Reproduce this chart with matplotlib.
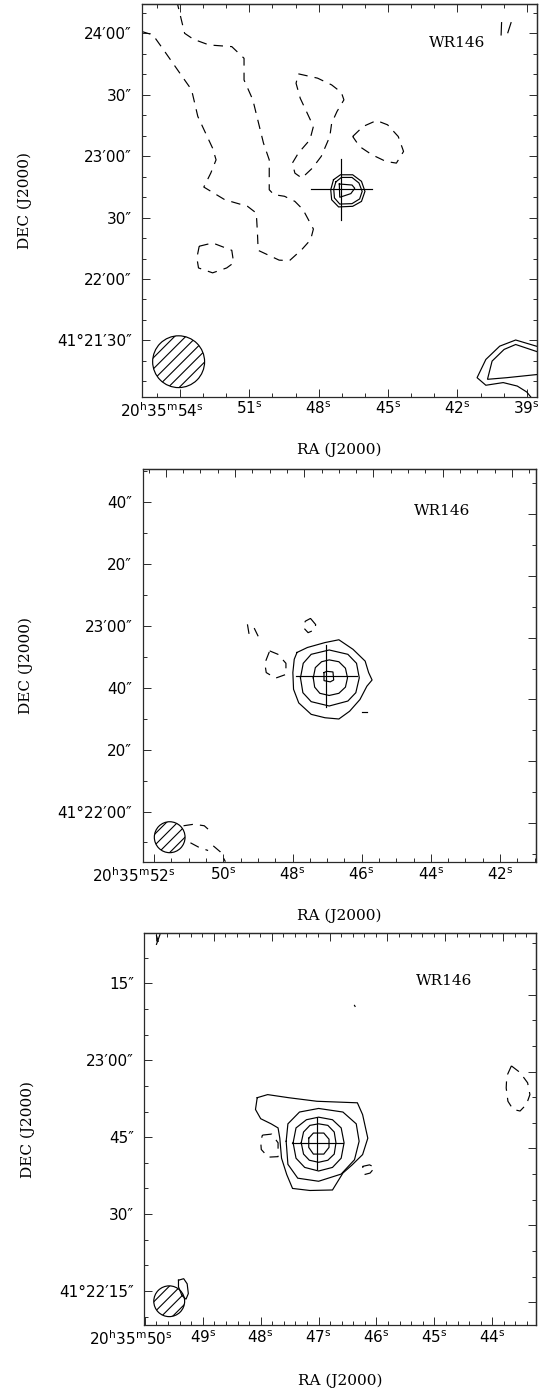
import matplotlib
matplotlib.use('Agg')
import matplotlib.pyplot as plt
from matplotlib.patches import Ellipse
from matplotlib.ticker import FixedLocator, MultipleLocator

plt.rcParams['font.family'] = ['DejaVu Sans']
plt.rcParams['mathtext.default'] = 'regular'
plt.rcParams['hatch.linewidth'] = 0.8

# ---------------------------------------------------------------- data
# RA in seconds after 20h35m, Dec in arcsec after +41d00m00s
SOURCE = 'WR146'
SRC_RA = 47.02
SRC_DEC = 1363.8
CROSS_HALF_ARCSEC = [15.0, 10.0, 5.0]
ARCSEC_PER_RA_SEC = 11.26
BEAM_RA = [54.06, 51.55, 49.58]
BEAM_DEC = [1279.6, 1311.7, 1333.0]
BEAM_ARCSEC = [25.3, 10.0, 6.0]

P1_XLIM = (55.63, 38.57)
P1_YLIM = (1262.5, 1454.3)
P1_XTICKS = [54, 51, 48, 45, 42, 39]
P1_XLABELS = [r'$20^{h}35^{m}54^{s}$', r'$51^{s}$', r'$48^{s}$', r'$45^{s}$', r'$42^{s}$', r'$39^{s}$']
P1_YTICKS = [1290, 1320, 1350, 1380, 1410, 1440]
P1_YLABELS = ['41°21′30″', '22′00″', '30″', '23′00″', '30″', '24′00″']

P2_XLIM = (52.33, 40.97)
P2_YLIM = (1303.6, 1430.8)
P2_XTICKS = [52, 50, 48, 46, 44, 42]
P2_XLABELS = [r'$20^{h}35^{m}52^{s}$', r'$50^{s}$', r'$48^{s}$', r'$46^{s}$', r'$44^{s}$', r'$42^{s}$']
P2_YTICKS = [1320, 1340, 1360, 1380, 1400, 1420]
P2_YLABELS = ['41°22′00″', '20″', '40″', '23′00″', '20″', '40″']

P3_XLIM = (50.01, 43.25)
P3_YLIM = (1328.3, 1404.8)
P3_XTICKS = [50, 49, 48, 47, 46, 45, 44]
P3_XLABELS = [r'$20^{h}35^{m}50^{s}$', r'$49^{s}$', r'$48^{s}$', r'$47^{s}$', r'$46^{s}$', r'$45^{s}$', r'$44^{s}$']
P3_YTICKS = [1335, 1350, 1365, 1380, 1395]
P3_YLABELS = ['41°22′15″', '30″', '45″', '23′00″', '15″']

# ---- panel 1 contours
P1_NEG_A = [(54.15, 1456.3), (53.80, 1440.0), (53.42, 1437.1), (52.74, 1434.3), (51.76, 1433.5),
            (51.23, 1427.8), (51.23, 1417.2), (50.85, 1407.5), (50.39, 1386.4), (50.14, 1378.2),
            (50.14, 1363.6), (49.94, 1361.2), (49.48, 1360.4), (49.03, 1357.9), (48.68, 1353.9),
            (48.23, 1344.4), (48.35, 1339.2), (48.73, 1334.4), (49.26, 1329.0), (49.71, 1329.2),
            (50.62, 1334.0), (50.65, 1342.5), (50.70, 1352.2), (51.08, 1355.5), (52.06, 1358.7),
            (52.97, 1364.9), (52.67, 1371.7), (52.44, 1378.2), (52.59, 1383.9), (53.23, 1399.4),
            (53.50, 1412.4), (53.80, 1417.2), (54.71, 1431.9), (55.17, 1439.2), (55.77, 1441.3)]
P1_NEG_B = [(48.88, 1420.2), (48.05, 1418.1), (47.44, 1414.8), (47.02, 1411.1), (46.91, 1407.5),
            (47.21, 1401.8), (47.44, 1396.1), (47.52, 1389.6), (47.89, 1379.9), (48.27, 1374.2),
            (48.73, 1369.3), (49.03, 1371.7), (49.14, 1376.6), (48.88, 1381.5), (48.38, 1388.0),
            (48.23, 1394.5), (48.53, 1401.8), (48.80, 1408.3), (48.98, 1415.6)]
P1_NEG_C = [(46.53, 1389.6), (46.08, 1394.5), (45.50, 1397.4), (45.02, 1395.3), (44.56, 1389.6),
            (44.33, 1382.3), (44.64, 1376.6), (45.09, 1377.4), (45.70, 1380.7), (46.23, 1384.7)]
P1_NEG_D = [(53.17, 1336.0), (52.59, 1337.6), (51.76, 1334.0), (51.68, 1327.9), (51.98, 1325.4),
            (52.59, 1323.0), (53.20, 1325.4), (53.27, 1330.3)]
P1_NEG_E1 = [(40.11, 1439.2), (40.09, 1445.2)]
P1_NEG_E2 = [(39.68, 1445.2), (39.82, 1440.3)]
P1_POS_1 = [(47.36, 1368.5), (47.06, 1370.9), (46.53, 1370.9), (46.15, 1367.7), (46.00, 1362.8),
            (46.15, 1357.9), (46.53, 1355.5), (47.14, 1355.2), (47.44, 1358.7), (47.48, 1363.6)]
P1_POS_2 = [(47.26, 1367.4), (47.02, 1369.6), (46.56, 1369.6), (46.26, 1366.9), (46.12, 1362.8),
            (46.23, 1359.1), (46.56, 1356.8), (47.09, 1356.6), (47.32, 1359.6), (47.35, 1363.9)]
P1_POS_3 = [(47.11, 1366.4), (46.56, 1365.9), (46.44, 1364.3), (46.61, 1361.7), (47.09, 1359.9)]
P1_POS_4 = [(38.50, 1286.9), (39.48, 1290.2), (40.17, 1287.2), (40.77, 1280.7), (41.15, 1271.8),
            (40.77, 1268.1), (40.02, 1269.4), (39.41, 1267.7), (39.00, 1264.8), (38.80, 1262.0)]
P1_POS_5 = [(38.50, 1284.3), (39.48, 1288.0), (39.98, 1285.6), (40.50, 1279.9), (40.70, 1271.0),
            (39.86, 1271.8), (38.50, 1273.4)]

# ---- panel 2 contours
P2_POS_1 = [(47.87, 1371.4), (47.57, 1373.0), (47.06, 1374.6), (46.66, 1375.5), (46.25, 1372.4),
            (45.90, 1368.6), (45.80, 1364.9), (45.70, 1362.5), (45.85, 1360.5), (46.05, 1356.2),
            (46.35, 1352.4), (46.66, 1349.9), (47.06, 1350.3), (47.46, 1351.4), (47.82, 1355.1),
            (47.97, 1359.5), (47.99, 1364.9), (47.95, 1369.2)]
P2_POS_2 = [(47.77, 1363.2), (47.69, 1367.9), (47.46, 1370.8), (46.94, 1372.2), (46.40, 1370.8),
            (46.15, 1367.9), (46.07, 1363.2), (46.17, 1358.4), (46.40, 1355.7), (46.94, 1354.1),
            (47.46, 1355.5), (47.70, 1358.4)]
P2_POS_3 = [(47.40, 1363.2), (47.34, 1366.5), (47.16, 1368.4), (46.94, 1369.0), (46.66, 1368.4),
            (46.47, 1366.3), (46.41, 1363.2), (46.47, 1360.2), (46.66, 1358.2), (46.94, 1357.5),
            (47.21, 1358.2), (47.36, 1360.2)]
P2_POS_4 = [(47.09, 1364.9), (47.01, 1365.3), (46.83, 1365.1), (46.81, 1362.5), (46.91, 1361.9),
            (47.09, 1362.3)]
P2_NEG_A1 = [(49.30, 1380.3), (49.26, 1377.6)]
P2_NEG_A2 = [(49.10, 1379.1), (49.00, 1376.8)]
P2_NEG_B = [(47.48, 1382.4), (47.33, 1380.4), (47.36, 1378.7), (47.55, 1377.8), (47.69, 1379.5),
            (47.63, 1381.5)]
P2_NEG_C = [(48.66, 1371.9), (48.42, 1370.8), (48.19, 1367.9), (48.19, 1364.3), (48.49, 1363.1),
            (48.76, 1364.9), (48.80, 1367.9)]
P2_NEG_D = [(46.00, 1352.2), (45.85, 1352.2)]
P2_NEG_E1 = [(51.15, 1315.4), (50.85, 1315.9), (50.55, 1315.4), (50.29, 1312.8)]
P2_NEG_E2 = [(50.95, 1309.9), (50.70, 1308.4), (50.44, 1307.4)]
P2_NEG_E3 = [(50.29, 1308.9), (50.09, 1307.0), (49.94, 1303.8)]

# ---- panel 3 contours
P3_POS_1 = [(48.06, 1372.7), (47.88, 1373.3), (47.52, 1372.7), (47.03, 1372.0), (46.33, 1371.7),
            (46.24, 1369.4), (46.15, 1364.8), (46.24, 1361.6), (46.42, 1359.6), (46.58, 1358.0),
            (46.76, 1354.7), (47.15, 1354.6), (47.45, 1355.0), (47.55, 1357.7), (47.64, 1360.9),
            (47.67, 1364.8), (47.70, 1366.8), (47.82, 1367.6), (48.00, 1368.6), (48.09, 1370.4)]
P3_POS_2 = [(47.56, 1364.2), (47.53, 1367.6), (47.33, 1369.9), (47.00, 1370.6), (46.58, 1369.9),
            (46.35, 1367.6), (46.30, 1364.2), (46.38, 1360.6), (46.61, 1357.8), (47.00, 1356.4),
            (47.36, 1357.0), (47.53, 1359.7)]
P3_POS_3 = [(47.44, 1363.9), (47.39, 1366.8), (47.21, 1368.4), (47.00, 1368.9), (46.76, 1368.4),
            (46.61, 1366.8), (46.56, 1363.9), (46.61, 1360.9), (46.76, 1359.1), (47.00, 1358.4),
            (47.24, 1359.1), (47.39, 1360.9)]
P3_POS_4 = [(47.30, 1363.9), (47.26, 1366.0), (47.15, 1367.3), (47.00, 1367.6), (46.84, 1367.3),
            (46.73, 1366.0), (46.70, 1363.9), (46.73, 1361.7), (46.84, 1360.5), (47.00, 1360.1),
            (47.16, 1360.5), (47.26, 1361.7)]
P3_POS_5 = [(47.17, 1364.8), (47.09, 1365.8), (46.91, 1365.8), (46.82, 1364.6), (46.82, 1363.0),
            (46.91, 1361.7), (47.09, 1361.7), (47.17, 1363.0)]
P3_POS_6 = [(49.42, 1337.1), (49.33, 1337.4), (49.27, 1336.4), (49.25, 1334.5), (49.29, 1333.4),
            (49.36, 1334.1), (49.42, 1335.8)]
P3_POS_7 = [(49.80, 1404.3), (49.77, 1403.2)]
P3_POS_8 = [(49.74, 1404.5), (49.80, 1402.6)]
P3_POS_9 = [(46.38, 1390.7), (46.37, 1390.5)]
P3_NEG_A = [(47.97, 1365.4), (47.81, 1365.6), (47.70, 1363.9), (47.70, 1361.2), (47.87, 1361.1),
            (47.99, 1362.6), (48.00, 1364.2)]
P3_NEG_B = [(46.24, 1359.3), (46.12, 1359.6), (46.03, 1359.1), (46.11, 1358.0), (46.21, 1357.7)]
P3_NEG_C = [(43.67, 1378.9), (43.52, 1377.6), (43.39, 1375.6), (43.35, 1373.3), (43.41, 1371.4),
            (43.52, 1370.1), (43.64, 1370.4), (43.73, 1372.0), (43.76, 1374.6), (43.75, 1376.9)]

# ---------------------------------------------------------------- style
EDGE = '#2a2a2a'
DASH = (0, (8, 6))
LW = 0.85
SERIF = ['DejaVu Serif']
TICKFS = 11
LABELFS = 11

fig = plt.figure(figsize=(5.54, 13.91), dpi=100)


def draw(ax, pts, closed=True, dashed=False):
    xs = [p[0] for p in pts]
    ys = [p[1] for p in pts]
    if closed:
        xs.append(xs[0])
        ys.append(ys[0])
    ax.plot(xs, ys, color='k', lw=LW, ls=DASH if dashed else '-',
            solid_joinstyle='miter', dash_capstyle='butt')


def setup(ax, xlim, ylim, xticks, xlabels, xminor, yticks, ylabels, yminor,
          top_off, top_major, right_off, right_major, first_dx, idx, wr_pos, ra_y):
    ax.set_xlim(*xlim)
    ax.set_ylim(*ylim)
    ax.xaxis.set_major_locator(FixedLocator(xticks))
    ax.xaxis.set_minor_locator(MultipleLocator(xminor))
    ax.yaxis.set_major_locator(FixedLocator(yticks))
    ax.yaxis.set_minor_locator(MultipleLocator(yminor))
    ax.set_xticklabels([''] + xlabels[1:])
    ax.set_yticklabels(ylabels)
    ax.tick_params(which='both', direction='in', top=False, right=False,
                   color=EDGE, width=0.7, labelsize=TICKFS)
    ax.tick_params(which='major', length=5.5)
    ax.tick_params(which='minor', length=3)
    ax.tick_params(axis='x', pad=3)
    ax.tick_params(axis='y', pad=7.5)
    for s in ax.spines.values():
        s.set_color(EDGE)
        s.set_linewidth(0.9)
    ax.annotate(xlabels[0], xy=(xticks[0], 0), xycoords=('data', 'axes fraction'),
                xytext=(first_dx, -3), textcoords='offset points',
                ha='right', va='top', fontsize=TICKFS)

    sx = ax.secondary_xaxis('top', functions=(lambda x, o=top_off: x + o,
                                              lambda x, o=top_off: x - o))
    sx.xaxis.set_major_locator(MultipleLocator(top_major))
    sx.xaxis.set_minor_locator(MultipleLocator(xminor))
    sx.tick_params(which='both', direction='in', labeltop=False, color=EDGE, width=0.7)
    sx.tick_params(which='major', length=5.5)
    sx.tick_params(which='minor', length=3)
    sx.spines['top'].set_color(EDGE)
    sx.spines['top'].set_linewidth(0.9)

    sy = ax.secondary_yaxis('right', functions=(lambda y, o=right_off: y + o,
                                                lambda y, o=right_off: y - o))
    sy.yaxis.set_major_locator(MultipleLocator(right_major))
    sy.yaxis.set_minor_locator(MultipleLocator(yminor))
    sy.tick_params(which='both', direction='in', labelright=False, color=EDGE, width=0.7)
    sy.tick_params(which='major', length=5.5)
    sy.tick_params(which='minor', length=3)
    sy.spines['right'].set_color(EDGE)
    sy.spines['right'].set_linewidth(0.9)

    # source cross
    h = CROSS_HALF_ARCSEC[idx]
    ax.plot([SRC_RA - h / ARCSEC_PER_RA_SEC, SRC_RA + h / ARCSEC_PER_RA_SEC],
            [SRC_DEC, SRC_DEC], color='k', lw=LW)
    ax.plot([SRC_RA, SRC_RA], [SRC_DEC - h, SRC_DEC + h], color='k', lw=LW)
    # beam
    b = BEAM_ARCSEC[idx]
    ax.add_patch(Ellipse((BEAM_RA[idx], BEAM_DEC[idx]), width=b / ARCSEC_PER_RA_SEC, height=b,
                         facecolor='none', edgecolor='k', lw=LW, hatch='///'))

    ax.text(wr_pos[0], wr_pos[1], SOURCE, transform=ax.transAxes, ha='center', va='center',
            fontsize=LABELFS, family=SERIF)
    ax.text(0.5, ra_y, 'RA (J2000)', transform=ax.transAxes, ha='center', va='center',
            fontsize=LABELFS, family=SERIF)
    ax.text(-0.297, 0.5, 'DEC (J2000)', transform=ax.transAxes, ha='center', va='center',
            rotation=90, fontsize=LABELFS, family=SERIF)


ax1 = fig.add_axes([0.2569, 0.7148, 0.7119, 0.2823])
setup(ax1, P1_XLIM, P1_YLIM, P1_XTICKS, P1_XLABELS, 1, P1_YTICKS, P1_YLABELS, 10,
      0.0, 3, 0.0, 30, 17, 0, (0.797, 0.900), -0.135)
for c in [P1_NEG_B, P1_NEG_C, P1_NEG_D]:
    draw(ax1, c, True, True)
for c in [P1_NEG_A]:
    draw(ax1, c, False, True)
for c in [P1_NEG_E1, P1_NEG_E2]:
    draw(ax1, c, False, False)
for c in [P1_POS_1, P1_POS_2, P1_POS_3]:
    draw(ax1, c, True, False)
for c in [P1_POS_4, P1_POS_5]:
    draw(ax1, c, False, False)

ax2 = fig.add_axes([0.2576, 0.3801, 0.7094, 0.2830])
setup(ax2, P2_XLIM, P2_YLIM, P2_XTICKS, P2_XLABELS, 0.5, P2_YTICKS, P2_YLABELS, 10,
      0.34, 2, 3.8, 20, 15.5, 1, (0.761, 0.892), -0.135)
for c in [P2_POS_1, P2_POS_2, P2_POS_3, P2_POS_4]:
    draw(ax2, c, True, False)
for c in [P2_NEG_B, P2_NEG_C]:
    draw(ax2, c, True, True)
for c in [P2_NEG_E1, P2_NEG_E2, P2_NEG_E3]:
    draw(ax2, c, False, True)
for c in [P2_NEG_A1, P2_NEG_A2, P2_NEG_D]:
    draw(ax2, c, False, False)

ax3 = fig.add_axes([0.2605, 0.0472, 0.7065, 0.2820])
setup(ax3, P3_XLIM, P3_YLIM, P3_XTICKS, P3_XLABELS, 0.2, P3_YTICKS, P3_YLABELS, 5,
      0.19, 1, 2.2, 15, 20, 2, (0.765, 0.877), -0.141)
for c in [P3_POS_1, P3_POS_2, P3_POS_3, P3_POS_4, P3_POS_5, P3_POS_6]:
    draw(ax3, c, True, False)
for c in [P3_POS_7, P3_POS_8, P3_POS_9]:
    draw(ax3, c, False, False)
for c in [P3_NEG_A, P3_NEG_B, P3_NEG_C]:
    draw(ax3, c, True, True)

fig.savefig('out.png', dpi=100)
